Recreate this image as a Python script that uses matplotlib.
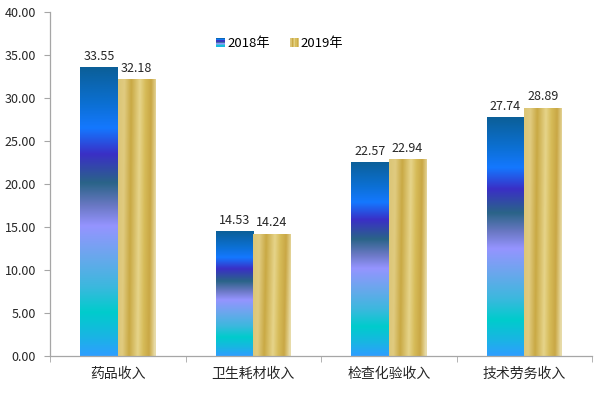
import numpy as np
import matplotlib
matplotlib.use("Agg")
import matplotlib.pyplot as plt
from matplotlib.colors import LinearSegmentedColormap
from matplotlib.legend_handler import HandlerBase
from matplotlib.patches import Rectangle, Patch

plt.rcParams['font.family'] = ['Noto Sans CJK SC', 'DejaVu Sans']

categories = ["药品收入", "卫生耗材收入", "检查化验收入", "技术劳务收入"]
series_names = ["2018年", "2019年"]
values_2018 = [33.55, 14.53, 22.57, 27.74]
values_2019 = [32.18, 14.24, 22.94, 28.89]
yticks = [0, 5, 10, 15, 20, 25, 30, 35, 40]

blue_stops = [(0.0, "#0b5f98"), (0.12, "#0b6fd0"), (0.21, "#1478ff"),
              (0.30, "#3a2fc6"), (0.40, "#2a6488"), (0.48, "#6a78c4"),
              (0.55, "#9594ff"), (0.66, "#68a8ec"), (0.76, "#3cb8de"),
              (0.85, "#00cccc"), (0.93, "#18b6e2"), (1.0, "#2e9eff")]
gold_stops = [(0.0, "#dcc678"), (0.14, "#e0cb80"), (0.32, "#c9a944"),
              (0.55, "#e6d48a"), (0.70, "#d6bb58"), (0.85, "#c9a745"),
              (0.94, "#dcc67c"), (1.0, "#e8dcaa")]
blue_cmap = LinearSegmentedColormap.from_list("blue", blue_stops)
gold_cmap = LinearSegmentedColormap.from_list("gold", gold_stops)

fig = plt.figure(figsize=(6.0, 3.95), dpi=100)
ax = fig.add_axes([50/600, 1-356/395, (592-50)/600, (356-12)/395])

x = np.arange(len(categories))
w = 0.277
b1 = ax.bar(x - w/2, values_2018, w, color="none", edgecolor="none", zorder=2)
b2 = ax.bar(x + w/2, values_2019, w, color="none", edgecolor="none", zorder=2)

# blue vertical gradient per bar
vgrad = np.linspace(0, 1, 256).reshape(-1, 1)
for p in b1.patches:
    x0, y0, ww, hh = p.get_x(), p.get_y(), p.get_width(), p.get_height()
    im = ax.imshow(vgrad, cmap=blue_cmap, extent=(x0, x0+ww, y0, y0+hh),
                   origin="upper", aspect="auto", interpolation="bilinear", zorder=2)
    im.set_clip_path(p)

# gold horizontal gradient with slight diagonal
ny, nx = 200, 120
yy, xx = np.mgrid[0:ny, 0:nx]
ggrad = np.clip(xx / (nx - 1) + 0.06 * (yy / (ny - 1)) - 0.03, 0, 1)
for p in b2.patches:
    x0, y0, ww, hh = p.get_x(), p.get_y(), p.get_width(), p.get_height()
    im = ax.imshow(ggrad, cmap=gold_cmap, extent=(x0, x0+ww, y0, y0+hh),
                   origin="upper", aspect="auto", interpolation="bilinear", zorder=2)
    im.set_clip_path(p)

for bars in (b1, b2):
    ax.bar_label(bars, labels=[f"{v:.2f}" for v in bars.datavalues],
                 padding=3, fontsize=9, color="#262626")

ax.set_xlim(-0.5, len(categories) - 0.5)
ax.set_ylim(0, 40)
ax.set_yticks(yticks)
ax.set_yticklabels([f"{t:.2f}" for t in yticks], fontsize=9, color="#262626")
ax.set_xticks(x)
ax.set_xticklabels(categories, fontsize=10, color="#262626")
ax.set_xticks(np.arange(len(categories) + 1) - 0.5, minor=True)
ax.tick_params(axis="x", which="major", length=0, pad=8)
ax.tick_params(axis="x", which="minor", length=4, color="#a6a6a6", direction="out")
ax.tick_params(axis="y", length=4, color="#a6a6a6", direction="out", pad=6)
for s in ("top", "right"):
    ax.spines[s].set_visible(False)
for s in ("left", "bottom"):
    ax.spines[s].set_color("#a6a6a6")
    ax.spines[s].set_linewidth(0.9)


class GradHandler(HandlerBase):
    def __init__(self, cmap, vertical):
        super().__init__()
        self.cmap = cmap
        self.vertical = vertical

    def create_artists(self, legend, orig_handle, xdescent, ydescent, width,
                       height, fontsize, trans):
        s = height * 0.95
        x0 = -xdescent + (width - s)
        y0 = -ydescent + (height - s) / 2
        n = 8
        arts = []
        for i in range(n):
            c = self.cmap((i + 0.5) / n)
            if self.vertical:
                r = Rectangle((x0, y0 + s - (i + 1) * s / n), s, s / n,
                              facecolor=c, edgecolor="none", transform=trans)
            else:
                r = Rectangle((x0 + i * s / n, y0), s / n, s,
                              facecolor=c, edgecolor="none", transform=trans)
            arts.append(r)
        return arts


h1 = Patch(label=series_names[0])
h2 = Patch(label=series_names[1])
ax.legend([h1, h2], series_names,
          handler_map={h1: GradHandler(blue_cmap, True), h2: GradHandler(gold_cmap, False)},
          loc="upper left", bbox_to_anchor=(208/600, 1-32/395), bbox_transform=fig.transFigure,
          ncol=2, frameon=False, fontsize=9.5, handlelength=0.9, handletextpad=0.15,
          columnspacing=1.3, borderaxespad=0)

fig.savefig("out.png", dpi=100)
